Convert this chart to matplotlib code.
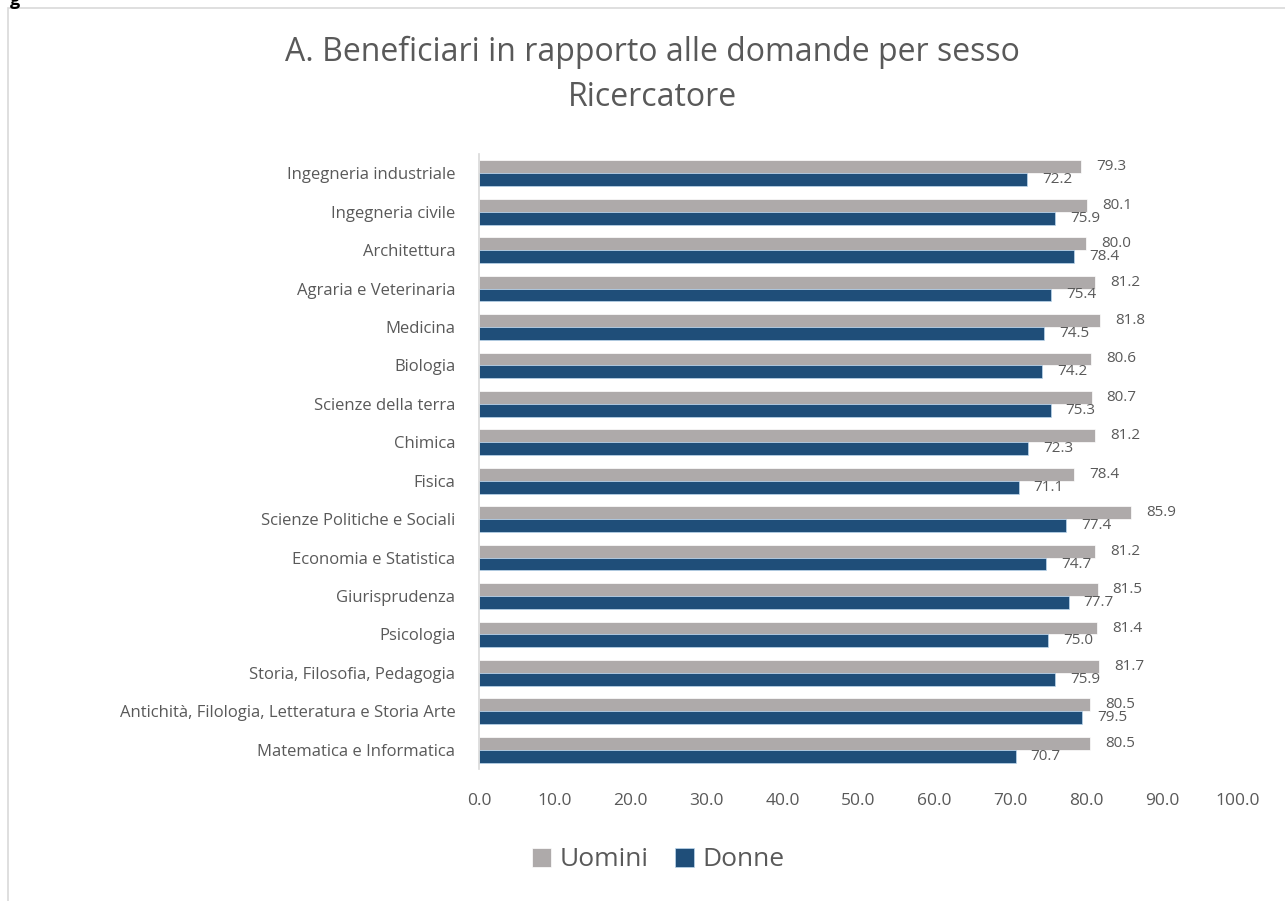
import matplotlib.pyplot as plt
from matplotlib.patches import Rectangle

categories = [
    "Ingegneria industriale", "Ingegneria civile", "Architettura",
    "Agraria e Veterinaria", "Medicina", "Biologia", "Scienze della terra",
    "Chimica", "Fisica", "Scienze Politiche e Sociali", "Economia e Statistica",
    "Giurisprudenza", "Psicologia", "Storia, Filosofia, Pedagogia",
    "Antichità, Filologia, Letteratura e Storia Arte", "Matematica e Informatica",
]
uomini = [79.3, 80.1, 80.0, 81.2, 81.8, 80.6, 80.7, 81.2, 78.4, 85.9, 81.2, 81.5, 81.4, 81.7, 80.5, 80.5]
donne = [72.2, 75.9, 78.4, 75.4, 74.5, 74.2, 75.3, 72.3, 71.1, 77.4, 74.7, 77.7, 75.0, 75.9, 79.5, 70.7]
xticks = [0, 10, 20, 30, 40, 50, 60, 70, 80, 90, 100]

plt.rcParams['font.family'] = ['Open Sans', 'DejaVu Sans']
text_col = '#595959'
grey = '#AEAAAA'
blue = '#1F4E79'

fig = plt.figure(figsize=(12.85, 9.01), dpi=100)
W, H = 1285, 901

# chart frame
fig.patches.append(Rectangle((8 / W, -0.01), 1.1, 1 - 8 / H + 0.01, transform=fig.transFigure,
                             fill=False, edgecolor='#D9D9D9', linewidth=1.2))
fig.text(10 / W, 1.0, "g", fontsize=13, fontweight='bold', va='center', ha='left', color='black')

ax = fig.add_axes([479 / W, 1 - 769 / H, (1238 - 479) / W, (769 - 154) / H])
y = list(range(len(categories)))
h = 0.335
ax.barh([i - h / 2 for i in y], uomini, height=h, color=grey, edgecolor='white', linewidth=0.5, label='Uomini')
ax.barh([i + h / 2 for i in y], donne, height=h, color=blue, edgecolor='#BDD7EE', linewidth=0.5, label='Donne')

for i in y:
    ax.annotate(f"{uomini[i]:.1f}", (uomini[i], i - h / 2), xytext=(15, 0), textcoords='offset pixels',
                va='center', ha='left', fontsize=11, color=text_col)
    ax.annotate(f"{donne[i]:.1f}", (donne[i], i + h / 2), xytext=(15, 0), textcoords='offset pixels',
                va='center', ha='left', fontsize=11, color=text_col)

ax.set_xlim(0, 100)
ax.set_ylim(len(categories) - 0.5, -0.5)
ax.set_yticks(y)
ax.set_yticklabels(categories, fontsize=12, color=text_col)
ax.set_xticks(xticks)
ax.set_xticklabels([f"{v:.1f}" for v in xticks], fontsize=12.5, color=text_col)
ax.tick_params(axis='both', length=0)
ax.tick_params(axis='x', pad=17)
ax.tick_params(axis='y', pad=17)
for s in ['top', 'right', 'bottom']:
    ax.spines[s].set_visible(False)
ax.spines['left'].set_color('#D9D9D9')
ax.spines['left'].set_linewidth(1.2)

fig.text(652 / W, 1 - 52 / H, "A. Beneficiari in rapporto alle domande per sesso",
         fontsize=23, color=text_col, ha='center', va='center')
fig.text(652 / W, 1 - 97 / H, "Ricercatore", fontsize=23, color=text_col, ha='center', va='center')

fig.legend(loc='center', bbox_to_anchor=(658 / W, 1 - 860 / H), ncol=2, frameon=False,
           fontsize=19, handlelength=0.75, handleheight=0.75, handletextpad=0.3, columnspacing=1.0,
           labelcolor=text_col)

fig.savefig("out.png", dpi=100)
